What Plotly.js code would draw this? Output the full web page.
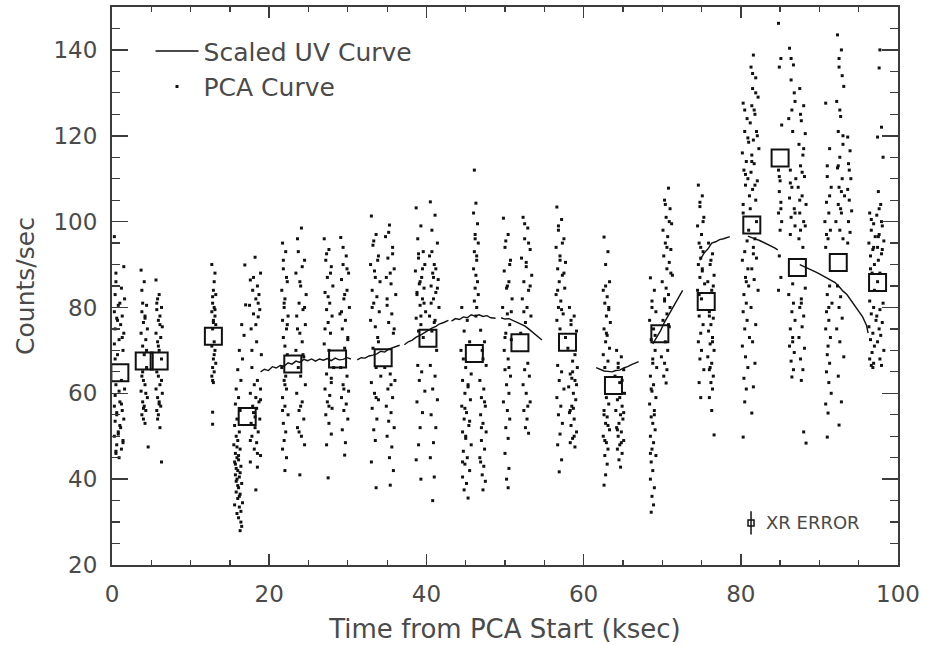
<!DOCTYPE html>
<html>
<head>
<meta charset="utf-8">
<script src="https://cdn.plot.ly/plotly-3.0.1.min.js"></script>
<style>html,body{margin:0;padding:0;background:#fff;}#chart{width:929px;height:645px;}</style>
</head>
<body>
<div id="chart"></div>
<script>
// ---------- PCA light-curve points (time in ksec, counts/sec), one pair per orbit/streak ----------
const aT = [0.3,1.5,0.5,1.2,0.4,1.6,0.8,0.3,1.3,0.6,1.1,0.4,1.5,0.9,0.3,1.4,0.7,1.2,0.5,1.6,0.4,1.0,0.3,1.3,0.6,1.5,0.4,1.1,0.8,0.3,1.4,0.6,1.2,0.5,0.9];
const aC = [96.5,89.5,88.0,84.5,83.0,82.0,80.5,79.0,78.0,77.5,76.0,75.0,74.0,72.5,71.5,70.0,69.0,63.0,62.0,61.0,59.5,58.0,57.0,56.0,55.0,54.0,53.5,52.0,51.0,50.0,49.0,48.0,47.0,46.5,45.0];
const aXT = [0.5,1.0,0.7,1.3,0.4,0.9,1.2,0.6,1.0,0.8,1.4,0.5];
const aXC = [86.0,81.0,77.0,73.0,68.0,60.5,57.5,55.5,52.5,50.5,48.5,46.0];
const b1T = [3.7,4.1,3.9,4.4,3.8,4.2,4.0,4.5,3.7,4.3,3.9,4.1,4.4,3.8,4.0,4.2,3.7,4.5,3.9,4.1,4.3,3.8,4.0,4.2,4.6];
const b1C = [88.7,86.0,81.0,80.5,79.0,78.0,76.5,75.0,74.0,72.5,71.0,69.0,66.0,64.0,63.0,62.0,60.5,59.0,58.0,57.0,56.0,55.0,54.0,53.0,47.5];
const b2T = [5.6,6.0,5.8,6.3,5.7,6.1,5.9,6.4,5.6,6.2,5.8,6.0,6.3,5.7,5.9,6.1,5.6,6.4,5.8,6.0,6.2,5.7,5.9,6.1,6.3];
const b2C = [86.4,83.0,82.0,80.0,79.5,78.0,77.0,75.5,74.0,73.0,72.0,70.0,68.0,65.0,64.0,62.0,61.0,60.0,59.0,58.0,57.0,56.0,55.0,52.0,44.0];
const bXT = [3.8,4.2,4.4,3.9,5.7,6.1,5.9,6.3,4.0,6.0,4.3,5.8];
const bXC = [84.0,77.5,70.0,65.0,81.0,76.0,71.0,63.0,56.5,57.5,60.0,54.0];
const cT = [12.7,13.1,12.9,13.2,12.8,13.0,12.7,13.1,12.9,13.2,12.8,13.0,12.7,13.1,12.9,13.2,12.8,13.0,12.7,12.9,12.8,12.8];
const cC = [90.0,88.0,84.0,83.0,81.0,80.0,79.0,78.0,77.0,76.0,75.0,72.0,71.0,70.0,68.0,67.0,66.0,65.0,64.0,62.5,55.6,52.8];
const cXT = [13.0,12.8,13.1,12.9,13.0,12.8];
const cXC = [86.0,82.5,79.5,76.5,69.0,63.0];
const d1T = [16.9,17.0,16.5,16.8,16.2,16.6,16.0,16.4,15.8,16.1,15.7,16.3,15.9,15.6,16.2,15.8,16.0,15.5,16.3,15.7,16.1,15.9,15.6,16.4,15.8,16.0,15.7,16.2,15.9,16.5,16.1,15.8,16.3,16.0,16.6,16.2,16.4,16.1,16.5,16.3];
const d1C = [89.9,80.6,76.0,73.5,70.0,68.0,65.5,63.0,61.0,59.0,57.5,56.0,54.0,52.5,51.0,50.0,49.0,48.0,47.0,46.0,45.5,45.0,44.0,43.0,42.5,42.0,41.0,40.5,40.0,39.0,38.0,37.0,36.5,35.5,34.5,33.5,32.5,31.0,29.0,28.0];
const d2T = [18.2,18.9,17.6,18.5,17.9,18.7,18.3,17.5,18.8,18.0,18.6,17.7,18.4,19.0,17.8,18.5,18.1,18.9,17.6,18.3,18.7,17.9,18.4,18.0,18.8,17.7,18.2,18.6,17.8,18.4,18.1,18.9,17.6,18.5,18.3];
const d2C = [91.7,88.0,86.4,85.0,84.0,83.0,82.0,80.5,79.5,78.5,77.8,75.0,72.0,69.0,66.0,63.0,62.0,61.0,60.0,59.0,58.0,57.0,56.5,55.5,54.0,53.0,52.0,51.0,50.0,48.5,47.0,45.5,44.0,42.8,37.5];
const dXT = [15.9,16.1,15.7,16.3,15.8,16.0,16.2,15.6,16.4,15.9,18.0,18.6,18.3,17.8,18.9,18.2,17.6,18.5];
const dXC = [47.5,44.5,43.5,41.5,39.5,38.5,36.0,34.0,30.0,32.0,87.0,81.0,76.0,70.0,58.5,54.5,49.0,46.0];
const e1T = [21.7,22.1,21.8,22.3,21.6,22.0,21.9,22.4,21.7,22.2,21.8,22.0,22.3,21.6,22.1,21.9,22.2,21.7,22.0,22.4,21.8,22.1,21.9,21.7,22.2,22.0];
const e1C = [95.0,93.0,89.0,86.0,84.0,82.0,80.0,78.0,77.0,75.0,73.0,71.0,69.0,66.0,64.0,63.0,61.0,59.0,57.0,55.0,53.0,51.0,49.0,47.0,45.0,42.0];
const e2T = [24.1,23.6,24.5,23.4,24.0,24.7,23.8,24.3,23.5,24.6,23.9,24.2,23.4,24.4,23.7,24.0,24.6,23.5,24.2,23.8,24.4,23.6,24.1,24.5,23.9];
const e2C = [98.5,96.0,91.0,88.0,85.0,83.0,81.0,79.5,78.0,76.0,74.0,72.0,70.0,68.5,66.0,64.0,62.0,60.0,58.0,56.0,54.0,52.0,50.0,48.0,41.0];
const eXT = [21.8,22.2,21.9,22.3,22.0,21.7,23.7,24.2,23.9,24.5,23.6,24.3,24.0,23.8];
const eXC = [91.0,87.0,81.0,76.0,62.0,56.0,93.0,89.5,86.0,80.0,75.0,69.0,57.0,51.0];
const f1T = [27.0,27.6,27.2,27.9,27.4,28.1,27.1,27.7,27.3,28.0,27.5,27.8,27.0,27.6,28.2,27.3,27.9,27.1,27.7,27.4,28.0,27.2,27.6,27.9,27.3,27.5];
const f1C = [96.0,93.5,91.0,89.5,87.0,85.0,83.5,81.0,79.5,78.0,76.5,74.0,71.5,70.0,66.0,64.5,62.5,61.0,59.5,58.0,56.5,55.0,53.0,50.5,48.0,40.3];
const f2T = [29.1,29.8,29.4,30.1,29.2,29.9,29.5,30.2,29.0,29.7,29.3,30.0,29.6,29.1,29.9,29.4,30.1,29.2,29.8,29.5,30.0,29.3,29.7,29.6];
const f2C = [96.3,92.0,90.0,88.0,86.5,84.0,82.0,80.0,78.5,77.0,75.0,72.5,70.5,66.0,64.0,62.0,60.5,59.0,57.5,56.0,54.0,51.5,48.5,45.6];
const fXT = [27.3,27.8,27.5,27.1,27.9,27.6,29.4,29.9,29.6,29.2,30.0,29.5];
const fXC = [92.5,88.0,82.5,75.0,63.5,57.0,94.0,89.0,83.0,79.0,73.0,61.0];
const g1T = [33.0,33.6,33.2,33.9,32.9,33.4,34.1,33.1,33.7,33.3,34.0,32.9,33.5,33.8,33.2,33.6,34.2,33.0,33.4,33.9,33.1,33.7,33.3,33.5,33.0,33.6];
const g1C = [101.3,97.0,94.5,92.0,90.0,88.5,86.0,84.0,82.5,81.0,79.0,77.0,75.5,73.0,70.5,66.0,64.0,62.5,60.0,58.5,56.5,54.0,51.5,49.0,44.0,38.0];
const g2T = [35.3,34.8,35.7,35.1,35.9,34.9,35.5,36.1,35.0,35.6,35.2,35.8,34.7,35.4,36.0,35.1,35.7,34.9,35.5,35.2,35.9,35.0,35.6,35.3,35.8,35.4];
const g2C = [99.2,96.5,94.0,91.5,89.0,87.0,85.5,83.0,80.5,78.5,76.5,74.0,66.0,64.5,63.0,61.0,59.0,57.0,55.5,53.5,52.0,50.0,47.5,45.0,42.0,38.6];
const gXT = [33.3,33.8,33.5,33.1,33.9,33.6,35.2,35.7,35.4,35.0,35.9,35.5];
const gXC = [95.5,91.0,87.0,80.0,72.0,59.0,97.5,92.5,88.0,82.0,75.0,62.0];
const h1T = [38.7,39.3,38.9,39.6,39.0,39.8,38.6,39.4,39.1,39.7,38.8,39.5,39.2,39.9,38.7,39.3,39.0,39.6,38.9,39.4,39.1,39.8,38.8,39.5,39.2,39.0,38.7,39.3];
const h1C = [103.2,99.0,96.0,93.0,91.5,90.0,88.5,87.0,85.5,84.5,83.0,82.0,80.5,79.0,77.5,76.0,74.5,73.0,66.5,65.0,63.0,60.5,58.0,55.5,52.0,48.0,44.5,40.0];
const h2T = [40.5,41.1,40.7,41.4,40.4,41.0,40.8,41.5,40.6,41.2,40.9,41.6,40.4,41.0,40.7,41.3,40.5,41.1,40.8,41.4,40.6,41.2,40.9,40.5,41.0,40.8];
const h2C = [104.6,101.5,98.0,95.0,92.0,90.0,88.0,86.5,85.0,83.5,82.0,80.0,78.0,76.5,74.5,70.0,66.5,64.0,61.0,58.5,55.0,52.0,48.5,45.0,40.5,35.0];
const hXT = [39.0,39.5,39.2,38.8,39.7,39.3,40.7,41.2,40.9,41.4,40.6,41.1];
const hXC = [92.5,89.0,86.0,83.5,81.0,78.0,93.0,89.0,87.0,84.5,81.0,77.0];
const i1T = [44.5,45.2,44.8,45.5,44.4,45.0,45.7,44.6,45.3,44.9,45.6,44.5,45.1,44.8,45.4,44.6,45.0,45.7,44.7,45.2,44.9,45.5,44.6,45.1,44.8,45.3];
const i1C = [80.0,77.0,74.5,72.0,70.0,66.0,64.5,63.0,61.5,60.0,58.5,57.0,55.5,54.0,52.5,51.0,49.5,48.0,46.5,45.0,43.5,42.0,40.5,39.0,37.5,35.6];
const i2T = [46.1,46.3,46.0,46.5,46.2,46.6,46.1,46.4,46.0,46.3,46.5,46.2,46.6,46.1,46.4,46.3];
const i2C = [112.0,104.3,102.0,99.5,97.0,95.0,93.0,91.0,89.0,87.5,86.0,84.5,83.0,81.5,80.0,78.0];
const i3T = [46.9,47.4,47.1,47.6,46.8,47.3,47.0,47.5,46.9,47.2,47.6,47.0,47.4,46.8,47.3,47.1,47.5,47.2];
const i3C = [74.7,72.0,70.0,66.5,63.0,61.0,59.0,57.0,55.0,53.0,51.0,49.0,47.0,45.0,43.0,41.0,39.5,37.5];
const iXT = [44.7,45.3,44.9,45.5,45.0,44.6,46.2,46.4,47.2,47.4,47.0,46.9];
const iXC = [68.0,62.0,56.5,53.5,50.0,44.0,96.0,92.0,68.0,58.0,52.0,44.0];
const j1T = [49.8,50.4,50.0,50.7,49.9,50.5,50.2,50.9,49.7,50.3,50.6,50.1,50.8,49.9,50.4,50.0,50.7,50.2,50.5,49.8,50.3,50.6,50.1,50.4,50.0,50.5,50.2,50.4];
const j1C = [100.8,97.0,94.0,91.0,88.5,86.0,84.5,82.0,80.0,78.5,76.0,74.0,72.5,70.0,68.0,65.5,64.0,62.0,60.0,58.0,56.0,54.0,52.0,49.5,46.0,42.5,40.0,38.0];
const j2T = [52.3,52.9,52.5,53.2,52.1,52.7,53.4,52.4,53.0,52.2,52.8,53.3,52.6,52.0,52.9,52.5,53.1,52.3,52.7,53.2,52.4,52.8,52.6,53.0];
const j2C = [101.0,98.5,96.0,93.5,91.5,89.5,87.5,86.0,84.0,82.0,80.0,78.0,76.5,74.0,67.0,65.5,64.0,62.0,60.0,58.0,56.0,54.0,52.0,50.7];
const jXT = [50.1,50.6,50.3,50.8,50.0,50.5,52.5,53.0,52.7,53.2,52.4,52.9];
const jXC = [95.5,90.0,85.0,79.0,73.0,66.0,99.5,95.0,90.5,85.0,79.0,57.0];
const k1T = [56.6,57.2,56.8,57.5,56.5,57.0,57.7,56.7,57.3,56.9,57.6,56.5,57.1,56.8,57.4,56.6,57.0,57.7,56.7,57.2,56.9,57.5,56.6,57.1,56.8,57.3,57.0,56.7,57.2,56.9];
const k1C = [103.4,100.5,98.0,96.0,94.0,92.0,90.5,89.0,87.5,86.0,84.5,83.0,81.5,80.0,78.5,77.0,75.0,73.0,66.5,65.0,63.0,61.0,59.0,57.0,55.0,53.0,50.5,48.0,44.5,41.7];
const k2T = [58.2,58.8,58.4,59.1,58.0,58.6,59.2,58.3,58.9,58.1,58.7,59.0,58.5,58.2,58.8,58.4,59.1,58.6,58.3,58.9,58.5,58.7];
const k2C = [80.0,78.0,76.0,74.5,70.5,67.5,66.0,64.5,63.0,61.5,60.0,58.5,57.0,55.5,54.0,52.5,51.0,49.5,48.5,47.5,63.5,56.5];
const kXT = [56.8,57.3,57.0,57.5,56.7,57.2,58.4,58.9,58.6,59.1,58.3,58.8];
const kXC = [99.0,95.0,91.0,88.0,84.0,79.5,77.0,69.0,65.0,62.0,56.0,50.0];
const l1T = [62.6,63.1,62.8,63.3,62.5,63.0,62.7,63.2,62.9,63.4,62.6,63.0,62.8,63.3,62.5,63.1,62.7,62.9,63.2,62.6,63.0,62.8,63.3,62.5,62.9,63.1,62.7,63.0,62.8,62.6];
const l1C = [96.4,93.0,90.0,86.0,84.0,82.5,81.0,79.5,78.0,76.5,75.0,73.5,72.0,70.5,69.0,67.5,66.0,59.0,57.5,56.0,54.5,53.0,51.5,50.0,48.5,47.0,45.5,43.5,41.0,38.6];
const l2T = [64.2,64.8,64.4,65.1,64.0,64.6,65.2,64.3,64.9,64.1,64.7,65.0,64.5,64.2,64.8,64.4,65.1,64.6,64.3,64.9,64.5,64.7];
const l2C = [70.0,68.5,67.0,65.5,64.0,62.5,60.0,58.5,57.0,56.0,55.0,54.0,53.0,52.0,51.0,50.0,49.0,48.0,47.0,46.0,44.5,42.8];
const lXT = [62.8,63.2,62.9,62.6,63.1,62.7,64.4,64.9,64.6,65.1,64.3,64.8];
const lXC = [85.0,80.0,74.0,55.0,52.5,49.0,66.0,63.0,59.0,55.5,51.5,48.5];
const m1T = [68.5,69.0,68.7,69.2,68.4,68.9,68.6,69.1,68.8,69.3,68.5,68.9,68.7,69.2,68.4,69.0,68.6,68.8,69.1,68.5,68.9,68.7,69.2,68.6,68.8,68.5,69.0,68.7,68.9,68.6];
const m1C = [86.9,84.0,81.5,79.0,77.0,75.0,72.5,70.0,68.0,66.0,64.0,62.0,60.5,59.0,57.5,56.0,54.5,53.0,51.5,50.0,48.5,47.0,45.5,44.0,42.0,40.0,38.0,36.0,34.0,32.3];
const m2T = [70.8,70.3,71.0,70.5,71.2,70.1,70.7,70.4,71.1,70.2,70.9,70.6,71.3,70.0,70.5,70.8,70.3,71.0,70.6,70.1,70.9,70.4,70.7,69.9,70.3,70.6,70.2,70.5];
const m2C = [107.8,105.0,103.0,101.0,99.5,98.0,96.5,95.0,93.5,92.0,90.5,89.0,87.5,86.0,84.5,83.0,81.5,80.0,78.5,77.0,75.5,72.0,70.0,68.5,67.0,65.5,64.0,62.4];
const mXT = [68.7,69.1,68.8,68.6,69.0,68.5,70.4,70.9,70.6,71.1,70.3,70.8];
const mXC = [80.0,73.5,67.0,61.0,55.0,46.0,104.0,100.0,94.0,88.0,82.0,76.0];
const n1T = [74.6,75.1,74.8,75.3,74.5,75.0,74.7,75.2,74.9,74.6,75.1,74.8,75.4,74.5,75.0,74.7,75.2,74.9,74.6,75.0,74.8,75.3,74.7,74.9];
const n1C = [108.5,106.0,103.5,101.0,99.0,97.0,95.0,93.0,91.5,90.0,88.5,87.0,85.5,84.0,82.0,78.0,76.0,74.0,72.0,70.0,68.0,65.5,62.5,59.0];
const n2T = [75.9,76.4,76.1,76.6,75.8,76.3,76.0,76.5,76.2,75.9,76.4,76.1,76.6,75.8,76.3,76.0,76.5,76.2,76.4,76.0,76.3,76.6];
const n2C = [95.0,92.5,90.0,87.5,86.0,84.0,79.0,77.5,76.0,74.5,73.0,71.5,70.0,68.5,67.0,65.5,64.0,62.5,61.0,59.0,56.0,50.3];
const nXT = [74.8,75.2,74.9,75.1,74.7,76.2,76.5,76.0,76.4,76.1];
const nXC = [104.5,100.0,94.0,89.0,83.0,91.0,85.0,78.0,72.0,66.0];
const o1T = [80.3,80.8,80.5,81.0,80.2,80.7,80.4,80.9,80.6,81.1,80.3,80.8,80.5,80.2,80.9,80.6,81.0,80.4,80.7,80.3,80.8,80.5,81.1,80.2,80.6,80.9,80.4,80.7,80.5,80.3];
const o1C = [127.6,124.0,121.0,118.5,116.0,114.0,112.0,110.0,108.5,106.0,104.0,95.5,93.0,91.0,89.0,87.0,85.0,83.0,81.0,79.0,77.0,75.0,73.0,71.0,68.5,66.0,63.5,61.0,58.0,49.8];
const o2T = [81.6,81.3,81.9,81.5,82.2,81.4,81.8,81.2,82.0,81.6,82.3,81.4,81.7,81.3,82.1,81.5,81.9,81.2,81.8,81.6,82.0,81.4,81.7,82.2,81.3,81.9,81.5,81.8,81.6,81.4];
const o2C = [138.8,136.0,133.5,131.0,129.0,127.0,125.0,123.0,121.0,119.0,117.0,115.5,113.5,111.5,109.5,107.5,105.0,103.0,96.0,94.0,91.5,89.0,86.5,84.0,80.0,76.0,72.0,67.0,61.5,55.4];
const oXT = [80.5,80.9,80.6,80.3,81.0,81.5,81.9,81.7,82.1,81.4,81.8,82.0,81.6,80.7];
const oXC = [126.0,119.5,111.0,102.0,98.0,134.5,130.0,126.0,120.0,114.0,108.5,100.0,92.5,86.0];
const p1T = [84.8,85.1,84.9,85.2,84.8,85.0,84.9,85.1,84.8,85.2,85.0,84.9,85.1,84.8];
const p1C = [146.2,138.0,136.0,122.5,112.0,109.5,107.0,104.5,102.0,100.0,98.0,92.0,87.0,84.0];
const p2T = [86.2,86.7,86.4,86.9,86.1,86.6,86.3,87.0,86.5,86.2,86.8,86.4,86.9,86.3,86.6,86.1,86.7,86.5,86.9,86.3,86.6,86.2,86.8,86.4,86.7,86.5];
const p2C = [140.4,136.5,133.0,128.0,124.0,121.0,112.0,110.0,108.0,105.5,103.0,101.0,99.0,97.0,85.5,83.0,81.0,79.0,77.0,75.0,73.0,71.0,69.5,67.5,65.5,63.8];
const p3T = [87.5,88.0,87.7,88.2,87.4,87.9,87.6,88.1,87.3,87.8,88.3,87.5,88.0,87.6,87.4,87.9,88.2,87.7,87.5,88.0,87.8,87.4,88.1,87.6,87.9,87.7,88.0,88.3];
const p3C = [131.0,127.0,123.5,120.5,118.0,115.5,113.0,110.5,108.0,106.0,104.0,102.0,100.0,98.0,96.0,94.0,84.5,82.0,80.0,78.0,75.5,73.0,70.5,68.0,65.5,63.0,51.0,48.4];
const pXT = [84.9,85.1,86.4,86.8,86.5,86.3,86.9,87.6,88.0,87.8,87.5,88.2,87.7,86.6];
const pXC = [110.5,103.0,138.0,130.0,126.0,109.0,102.0,125.0,117.0,111.5,105.0,99.0,81.0,72.0];
const q1T = [90.8,91.3,91.0,91.5,90.9,91.2,90.7,91.4,91.1,90.8,91.3,91.0,91.6,90.9,91.2,90.8,91.4,91.1,91.0,91.3,90.9,91.2,91.5,90.8,91.1,91.0];
const q1C = [127.6,117.0,113.0,108.0,104.5,102.0,100.0,98.0,96.0,94.0,85.0,83.0,81.0,79.0,77.0,75.0,73.0,71.0,69.0,67.0,65.0,62.5,60.0,57.5,55.4,49.8];
const q2T = [92.3,92.8,92.5,93.1,92.2,92.7,92.4,93.0,92.6,92.3,92.9,92.5,93.2,92.4,92.8,92.1,92.6,93.0,92.3,92.7,92.5,92.9,92.2,92.6,93.1,92.4,92.8,92.5];
const q2C = [143.5,140.0,136.0,131.5,128.0,124.5,121.0,118.0,115.0,112.5,110.0,108.0,106.0,104.0,102.0,100.0,98.0,96.0,85.0,82.5,80.0,77.5,75.0,72.0,68.5,64.0,58.0,52.6];
const q3T = [93.6,93.9,93.7,94.0,93.6,93.8,94.1,93.7,93.9,93.6];
const q3C = [119.7,116.5,113.5,110.0,107.5,105.0,102.5,100.0,97.5,95.0];
const qXT = [91.0,91.3,90.9,91.2,92.5,92.9,92.6,93.0,92.4,92.8,92.7,93.8];
const qXC = [110.5,106.0,97.0,80.0,138.0,134.0,126.0,120.0,113.0,107.0,103.0,112.0];
const r1T = [96.4,96.9,96.6,97.1,96.3,96.8,96.5,97.0,96.7,96.4,96.9,96.6,97.2,96.3,96.8,96.5,97.0,96.7,96.4,96.9,96.6,96.8];
const r1C = [102.0,99.5,98.0,96.5,95.0,93.5,92.0,90.0,88.0,81.5,80.0,78.5,77.0,75.5,74.0,72.5,71.0,69.5,68.0,67.0,66.5,66.0];
const r2T = [97.7,97.6,97.9,97.4,98.1,97.5,97.8,97.3,98.0,97.6,98.2,97.4,97.9,97.5,98.1,97.7,97.3,98.0,97.6,97.8,97.4,98.2,97.7,97.9];
const r2C = [140.0,135.8,122.0,119.7,115.0,107.0,104.0,101.5,99.0,97.0,95.5,94.0,92.5,91.0,81.0,79.5,78.0,76.5,75.0,73.5,72.0,70.0,68.0,66.5];
const rXT = [96.6,96.9,96.5,97.0,97.6,97.9,97.5,98.0,97.7,97.4];
const rXC = [100.5,94.0,89.0,84.0,103.0,100.0,96.5,93.5,88.0,86.0];

// ---------- binned PCA averages (open boxes) ----------
const binT = [1.0,4.1,6.0,12.9,17.2,23.0,28.7,34.5,40.2,46.1,51.9,57.95,63.8,69.7,75.6,81.4,85.0,87.2,92.4,97.4];
const binC = [64.8,67.5,67.5,73.3,54.6,66.8,68.0,68.3,72.8,69.3,71.8,71.9,61.8,73.9,81.4,99.2,114.8,89.3,90.5,85.8];

// ---------- scaled UV curve (null = gap) ----------
const uvT = [18.9,19.4,19.9,20.4,20.9,21.4,21.9,22.4,22.9,23.4,23.9,24.4,24.9,25.4,25.9,26.4,26.9,27.4,27.9,28.4,28.9,29.4,29.9,30.4,null,
  31.2,31.7,32.2,32.7,33.2,33.7,34.2,34.7,35.2,35.7,36.2,36.6,null,
  37.2,37.7,38.2,38.7,39.2,39.7,40.2,40.7,41.2,41.7,42.2,42.8,null,
  43.2,43.7,44.2,44.7,45.2,45.7,46.2,46.7,47.2,47.7,48.2,48.8,null,
  49.5,50.0,50.5,51.0,51.5,52.0,52.5,53.0,53.5,54.0,54.7,null,
  61.6,62.1,62.6,63.1,63.6,64.1,64.6,65.1,65.6,66.1,66.6,67.0,null,
  68.8,69.3,69.8,70.3,70.8,71.3,71.8,72.2,72.6,null,
  74.8,75.3,75.8,76.3,76.8,77.3,77.8,78.2,78.6,null,
  80.9,81.4,81.9,82.4,82.9,83.4,83.9,84.3,84.7,null,
  87.5,88.0,88.5,89.0,89.5,90.0,90.5,91.0,91.5,92.0,92.5,93.0,93.5,94.0,94.5,95.0,95.5,96.0,96.2];
const uvC = [65.0,65.6,65.3,66.2,65.9,66.5,66.3,67.1,66.8,67.5,67.2,67.9,67.6,68.0,67.5,68.0,67.7,68.1,67.6,68.2,67.8,67.9,68.3,68.0,null,
  67.8,68.3,68.2,68.7,68.9,69.2,69.8,69.6,70.3,70.6,70.9,71.2,null,
  71.3,72.0,72.4,73.1,73.5,74.1,74.6,75.2,75.6,76.2,76.5,77.0,null,
  76.8,77.4,77.2,77.8,77.6,78.3,78.0,78.3,77.9,78.1,77.6,77.5,null,
  77.6,77.3,77.4,77.0,76.6,76.2,75.7,75.0,74.2,73.4,72.4,null,
  66.0,65.6,65.2,65.1,65.0,65.3,65.4,65.9,66.2,66.7,67.0,67.4,null,
  71.5,73.0,74.6,76.6,78.2,79.9,81.5,82.9,84.0,null,
  91.0,92.6,93.6,95.0,95.3,95.8,96.0,96.2,96.5,null,
  96.6,96.2,95.9,95.6,95.2,94.8,94.3,93.9,93.4,null,
  90.0,89.6,89.2,88.7,88.3,87.8,87.3,86.9,86.4,85.8,84.9,83.8,83.0,81.7,80.6,79.2,77.8,75.8,74.0];

// ---------- representative X-ray error bar ----------
const errT = [81.3];
const errC = [29.8];
const errSize = [2.7];

// ---------- tick labels ----------
const xTicks = [0,20,40,60,80,100];
const yTicks = [20,40,60,80,100,120,140];

const pcaT = [].concat(aT,aXT,b1T,b2T,bXT,cT,cXT,d1T,d2T,dXT,e1T,e2T,eXT,f1T,f2T,fXT,g1T,g2T,gXT,h1T,h2T,hXT,i1T,i2T,i3T,iXT,j1T,j2T,jXT,k1T,k2T,kXT,l1T,l2T,lXT,m1T,m2T,mXT,n1T,n2T,nXT,o1T,o2T,oXT,p1T,p2T,p3T,pXT,q1T,q2T,q3T,qXT,r1T,r2T,rXT);
const pcaC = [].concat(aC,aXC,b1C,b2C,bXC,cC,cXC,d1C,d2C,dXC,e1C,e2C,eXC,f1C,f2C,fXC,g1C,g2C,gXC,h1C,h2C,hXC,i1C,i2C,i3C,iXC,j1C,j2C,jXC,k1C,k2C,kXC,l1C,l2C,lXC,m1C,m2C,mXC,n1C,n2C,nXC,o1C,o2C,oXC,p1C,p2C,p3C,pXC,q1C,q2C,q3C,qXC,r1C,r2C,rXC);

const ink = '#111111';
const axisInk = '#3c3c3c';
const textInk = '#4a4a4a';
const fontFam = 'DejaVu Sans, sans-serif';

const traces = [
  {
    type: 'scatter', mode: 'markers', name: 'PCA Curve', legendrank: 2,
    x: pcaT, y: pcaC,
    marker: {symbol: 'square', size: 3, color: ink, line: {width: 0}},
    hoverinfo: 'skip'
  },
  {
    type: 'scatter', mode: 'lines', name: 'Scaled UV Curve', legendrank: 1,
    x: uvT, y: uvC, connectgaps: false,
    line: {color: ink, width: 1.4},
    hoverinfo: 'skip'
  },
  {
    type: 'scatter', mode: 'markers', name: 'bins', showlegend: false,
    x: binT, y: binC,
    marker: {symbol: 'square-open', size: 17, color: ink, line: {width: 2, color: ink}},
    hoverinfo: 'skip'
  },
  {
    type: 'scatter', mode: 'markers', name: 'XR ERROR', showlegend: false,
    x: errT, y: errC,
    marker: {symbol: 'square-open', size: 6, color: ink, line: {width: 1.5, color: ink}},
    error_y: {type: 'data', array: errSize, symmetric: true, thickness: 1.5, width: 0, color: ink},
    hoverinfo: 'skip'
  }
];

const layout = {
  width: 929, height: 645,
  margin: {l: 112, r: 31, t: 7, b: 80},
  paper_bgcolor: '#ffffff', plot_bgcolor: '#ffffff',
  font: {family: fontFam, color: textInk, size: 23},
  showlegend: true,
  legend: {
    x: 0.049, y: 0.962, xanchor: 'left', yanchor: 'top',
    bgcolor: 'rgba(0,0,0,0)', borderwidth: 0,
    font: {family: fontFam, size: 25, color: textInk},
    itemwidth: 43, tracegroupgap: 4, traceorder: 'normal'
  },
  xaxis: {
    range: [0, 100], tickmode: 'array', tickvals: xTicks, ticktext: xTicks.map(String),
    ticks: 'inside', ticklen: 11, tickwidth: 1.5, tickcolor: axisInk,
    minor: {dtick: 5, tick0: 0, ticks: 'inside', ticklen: 5, tickwidth: 1.2, tickcolor: axisInk},
    showline: true, linecolor: axisInk, linewidth: 2, mirror: 'ticks',
    showgrid: false, zeroline: false,
    tickfont: {family: fontFam, size: 23, color: textInk},
    ticklabelstandoff: 7,
    title: {text: 'Time from PCA Start (ksec)', font: {family: fontFam, size: 26, color: textInk}, standoff: 14}
  },
  yaxis: {
    range: [20, 150], tickmode: 'array', tickvals: yTicks, ticktext: yTicks.map(String),
    ticks: 'inside', ticklen: 16, tickwidth: 1.5, tickcolor: axisInk,
    minor: {dtick: 5, tick0: 20, ticks: 'inside', ticklen: 8, tickwidth: 1.2, tickcolor: axisInk},
    showline: true, linecolor: axisInk, linewidth: 2, mirror: 'ticks',
    showgrid: false, zeroline: false,
    tickfont: {family: fontFam, size: 23, color: textInk},
    ticklabelstandoff: 8,
    title: {text: 'Counts/sec', font: {family: fontFam, size: 25, color: textInk}, standoff: 12}
  },
  annotations: [
    {xref: 'x', yref: 'y', x: 83.0, y: 29.8, xanchor: 'left', yanchor: 'middle',
     text: 'XR ERROR', showarrow: false, font: {family: fontFam, size: 18, color: textInk}}
  ]
};

Plotly.newPlot('chart', traces, layout, {displayModeBar: false, staticPlot: true});
</script>
</body>
</html>
